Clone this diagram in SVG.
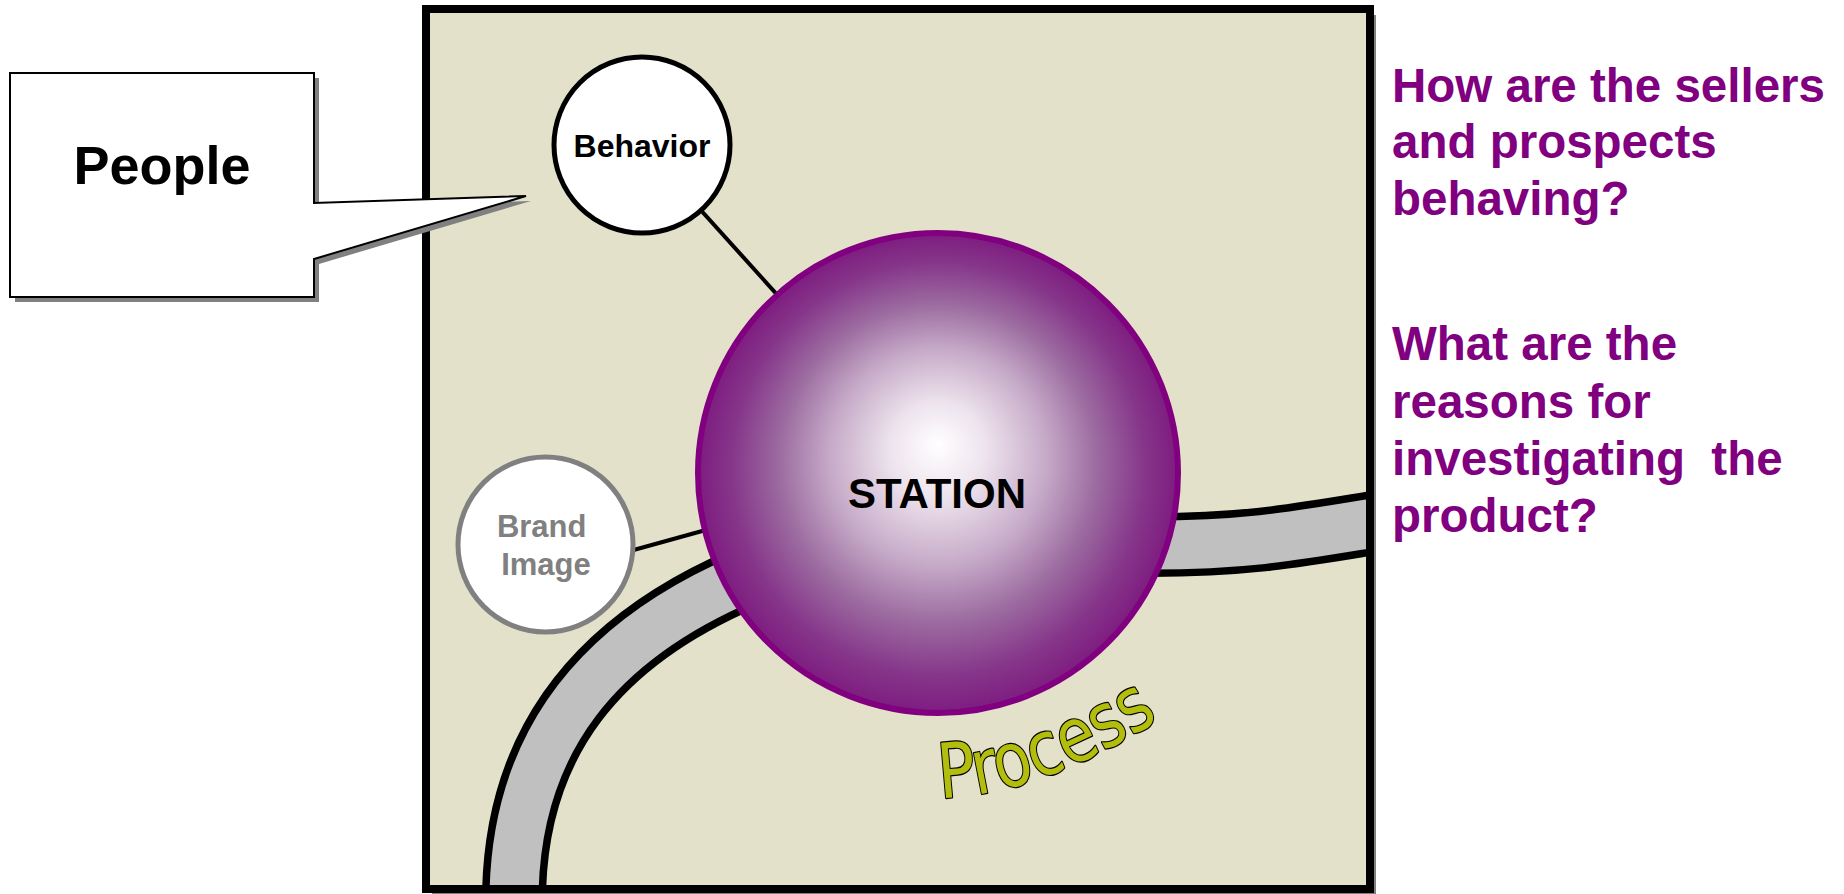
<svg xmlns="http://www.w3.org/2000/svg" width="1844" height="894" viewBox="0 0 1844 894">
  <style>
    .bold { font-family: "Liberation Sans", Arial, sans-serif; font-weight: bold; }
    .question { fill: #800080; font-size: 47.5px; white-space: pre; }
    .link { stroke: #000; stroke-width: 4; fill: none; }
    .shadow { fill: #808080; }
  </style>
  <defs>
    <radialGradient id="stationGlow" cx="50%" cy="50%" r="50%" fx="50%" fy="44%">
      <stop offset="0" stop-color="#ffffff"/>
      <stop offset="0.2" stop-color="#ede3ed"/>
      <stop offset="0.45" stop-color="#c6aac8"/>
      <stop offset="0.66" stop-color="#9c6ca0"/>
      <stop offset="0.86" stop-color="#86368a"/>
      <stop offset="1" stop-color="#7e1c80"/>
    </radialGradient>
    <clipPath id="frameClip">
      <rect x="426" y="9" width="944" height="880"/>
    </clipPath>
  </defs>

  <rect width="1844" height="894" fill="#ffffff"/>

  <!-- frame with drop shadow -->
  <g id="frame">
    <rect class="shadow" x="432" y="15" width="944" height="880"/>
    <rect x="426" y="9" width="944" height="880" fill="#e3e1c9"/>
  </g>

  <!-- road running through the station -->
  <g id="road" clip-path="url(#frameClip)">
    <path d="M 514 896 C 516 740 600 640 745 578 C 850 533 1000 545 1150 545 C 1250 545 1300 535 1380 522" fill="none" stroke="#000" stroke-width="64"/>
    <path d="M 514 896 C 516 740 600 640 745 578 C 850 533 1000 545 1150 545 C 1250 545 1300 535 1380 522" fill="none" stroke="#c0c0c0" stroke-width="49"/>
  </g>

  <!-- connectors -->
  <g id="connectors">
    <line class="link" x1="642" y1="145" x2="800" y2="320"/>
    <line class="link" x1="630" y1="551" x2="760" y2="515"/>
  </g>

  <g id="node-behavior">
    <circle cx="642" cy="145" r="88" fill="#ffffff" stroke="#000" stroke-width="5"/>
    <text class="bold" x="642" y="157" font-size="32" text-anchor="middle" fill="#000">Behavior</text>
  </g>

  <g id="node-brand">
    <circle cx="545.5" cy="544.5" r="87.5" fill="#ffffff" stroke="#808080" stroke-width="5"/>
    <text class="bold" font-size="31" text-anchor="middle" fill="#808080">
      <tspan x="546" y="537">Brand</tspan>
      <tspan x="546" y="575">Image</tspan>
    </text>
  </g>

  <g id="node-station">
    <circle cx="938" cy="473" r="240" fill="url(#stationGlow)" stroke="#800080" stroke-width="6"/>
    <text class="bold" x="937" y="508" font-size="42" text-anchor="middle" fill="#000">STATION</text>
  </g>

  <!-- curved road label -->
  <g id="label-process">
    <path id="processCurve" d="M 940 798 Q 1040 796 1168 714" fill="none"/>
    <text font-family="'DejaVu Sans', sans-serif" font-size="76" fill="#b3bd0c" stroke="#000" stroke-width="2.4" stroke-linejoin="round" paint-order="stroke">
      <textPath href="#processCurve" textLength="236" lengthAdjust="spacingAndGlyphs">Process</textPath>
    </text>
  </g>

  <!-- frame outline drawn over the road ends -->
  <rect x="426" y="9" width="944" height="880" fill="none" stroke="#000" stroke-width="8"/>

  <!-- callout -->
  <g id="node-people">
    <path class="shadow" d="M 15 78 H 319 V 208 L 531 201 L 319 264 V 302 H 15 Z"/>
    <path d="M 10 73 H 314 V 203 L 526 196 L 314 259 V 297 H 10 Z" fill="#ffffff" stroke="#000" stroke-width="2"/>
    <text class="bold" x="162" y="184" font-size="54" text-anchor="middle" fill="#000">People</text>
  </g>

  <g id="node-questions">
    <text class="bold question">
      <tspan x="1392" y="102">How are the sellers</tspan>
      <tspan x="1392" y="158">and prospects</tspan>
      <tspan x="1392" y="215">behaving?</tspan>
      <tspan x="1392" y="360">What are the</tspan>
      <tspan x="1392" y="418">reasons for</tspan>
      <tspan x="1392" y="475">investigating  the</tspan>
      <tspan x="1392" y="532">product?</tspan>
    </text>
  </g>
</svg>
